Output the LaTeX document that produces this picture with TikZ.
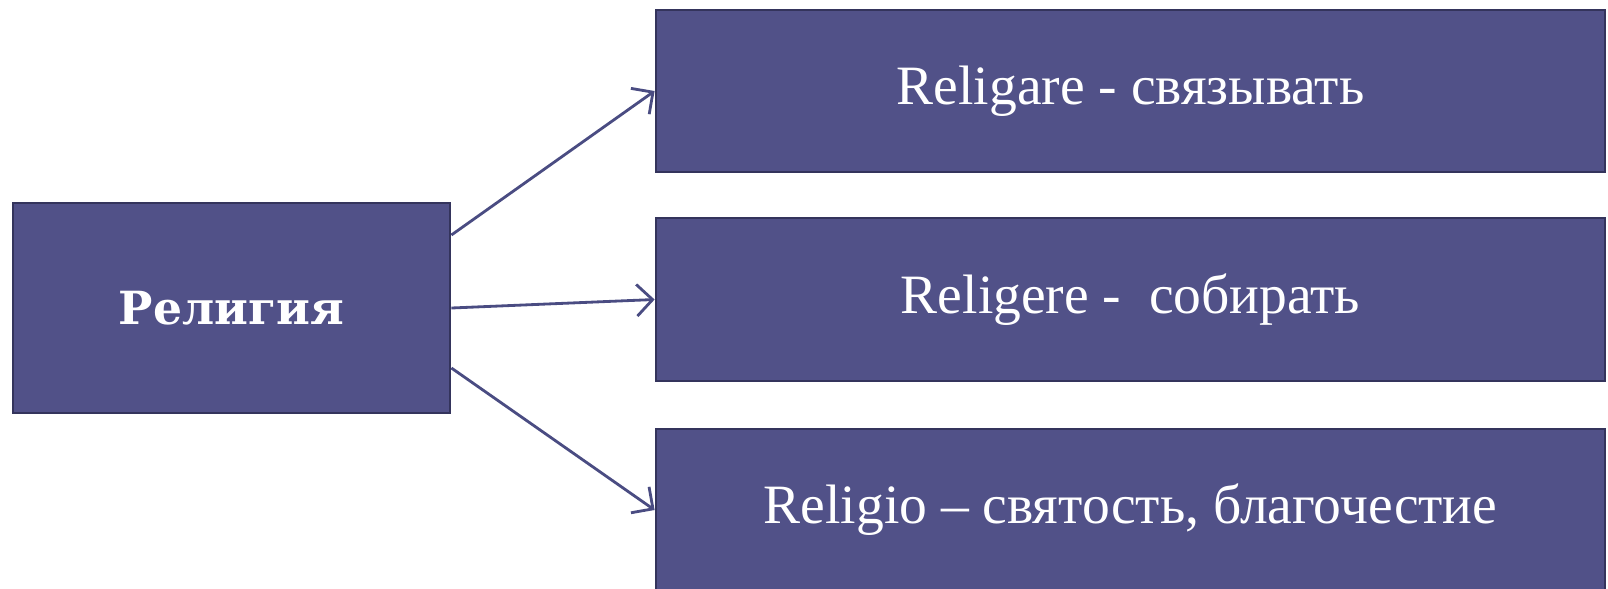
\documentclass[tikz,border=0pt]{standalone}
\usepackage{fontspec}
\setmainfont{Liberation Serif}
\newfontfamily\headfont{DejaVu Serif}
\usetikzlibrary{arrows.meta}
\definecolor{boxfill}{RGB}{81,81,136}
\definecolor{boxedge}{RGB}{52,52,92}
\definecolor{linkcol}{RGB}{74,76,130}
\begin{document}
\begin{tikzpicture}[
    wordbox/.style={draw=boxedge, line width=0.8pt, fill=boxfill, text=white,
      inner sep=0pt, minimum width=9.49cm, minimum height=1.62cm,
      font=\fontsize{15.8}{18}\selectfont},
    rootbox/.style={draw=boxedge, line width=0.8pt, fill=boxfill, text=white,
      inner sep=0pt, minimum width=4.37cm, minimum height=2.10cm,
      font=\headfont\bfseries\fontsize{13}{15}\selectfont},
    link/.style={draw=linkcol, line width=0.8pt, -{Straight Barb[length=4.5pt,width=9pt]}}
  ]
  \useasboundingbox (0,0) rectangle (16.08,5.88);
  % root word
  \node[rootbox] (relig) at (2.315,2.80) {Религия};
  % three latin roots
  \node[wordbox] (ligare) at (11.305,4.97) {Religare - связывать};
  \node[wordbox, minimum height=1.63cm] (legere) at (11.305,2.885) {Religere - \ собирать};
  \node[wordbox] (religio) at (11.305,0.78) {Religio – святость, благочестие};
  % links
  \draw[link] ([yshift=0.73cm]relig.east) -- (ligare.west);
  \draw[link] (relig.east) -- (legere.west);
  \draw[link] ([yshift=-0.60cm]relig.east) -- (religio.west);
\end{tikzpicture}
\end{document}
